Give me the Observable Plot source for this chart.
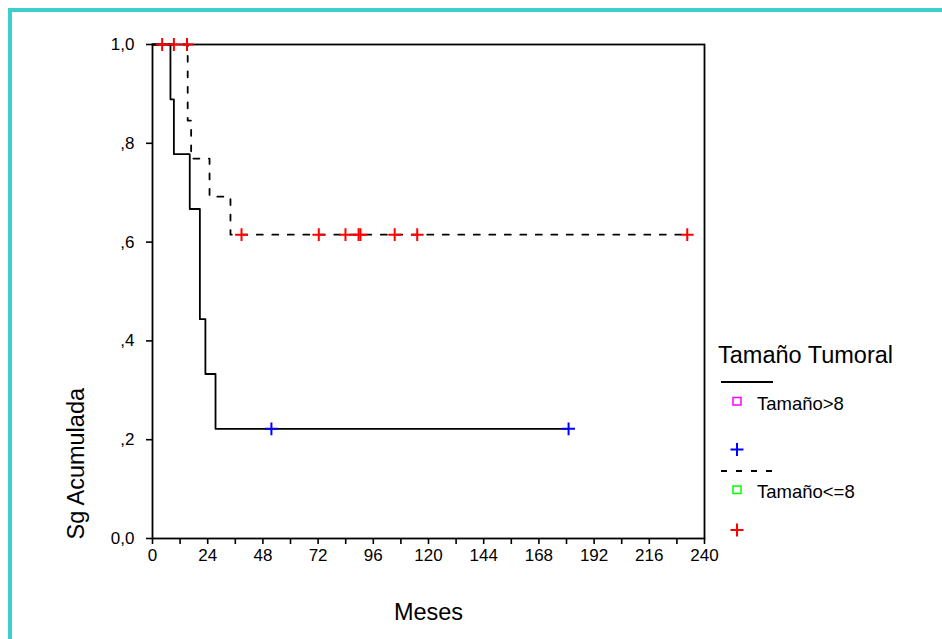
<!DOCTYPE html>
<html><head><meta charset="utf-8">
<script src="https://cdn.jsdelivr.net/npm/d3@7"></script>
<script src="https://cdn.jsdelivr.net/npm/@observablehq/plot@0.6"></script>
<style>
html,body{margin:0;padding:0;background:#fff;}
#chart{width:942px;height:639px;overflow:hidden;position:relative;}
</style></head><body><div id="chart"></div>
<script>
// ---- data ----
const xTicks = [0, 24, 48, 72, 96, 120, 144, 168, 192, 216, 240];
const xMinorTicks = [12, 36, 60, 84, 108, 132, 156, 180, 204, 228];
const yTicks = [0, 0.2, 0.4, 0.6, 0.8, 1.0];
const yTickLabels = ["0,0", ",2", ",4", ",6", ",8", "1,0"];
const legendTitle = "Tamaño Tumoral";
const seriesNames = ["Tamaño>8", "Tamaño<=8"];

// Tamaño>8 (solid)
const mayor8Time = [0, 7.8, 9.3, 16.2, 20.6, 23.0, 27.4, 180.9];
const mayor8Surv = [1.0, 0.889, 0.778, 0.667, 0.444, 0.333, 0.222, 0.222];
const mayor8CensorTime = [51.7, 180.9];
const mayor8CensorSurv = [0.222, 0.222];

// Tamaño<=8 (dashed)
const menor8Time = [0, 15.3, 16.8, 24.8, 33.9, 232.5];
const menor8Surv = [1.0, 0.846, 0.769, 0.692, 0.615, 0.615];
const menor8CensorTime = [4.2, 9.3, 15.0, 38.7, 72.3, 83.9, 89.6, 90.4, 105.3, 115.1, 232.5];
const menor8CensorSurv = [1.0, 1.0, 1.0, 0.615, 0.615, 0.615, 0.615, 0.615, 0.615, 0.615, 0.615];

// ---- build tables ----
const zip = (ts, ss) => ts.map((t, i) => ({t, s: ss[i]}));
const mayor8 = zip(mayor8Time, mayor8Surv);
const menor8 = zip(menor8Time, menor8Surv);
const mayor8C = zip(mayor8CensorTime, mayor8CensorSurv);
const menor8C = zip(menor8CensorTime, menor8CensorSurv);

const font = "'Liberation Sans', Arial, Helvetica, sans-serif";
const dash = "6,9.5";

const svg = Plot.plot({
  width: 942, height: 639,
  marginLeft: 152, marginRight: 238, marginTop: 44, marginBottom: 101,
  style: {fontFamily: font, fontSize: "17px", color: "#000", background: "transparent", overflow: "visible"},
  x: {domain: [0, 240]},
  y: {domain: [0, 1]},
  marks: [
    Plot.axisX({ticks: xMinorTicks, tickSize: 6, text: null, label: null, strokeWidth: 1.6}),
    Plot.axisX({ticks: xTicks, tickSize: 6, tickPadding: 4, tickFormat: d => String(d), label: null, strokeWidth: 1.6, fontSize: 17}),
    Plot.axisY({ticks: yTicks, tickSize: 6, tickPadding: 12, tickFormat: d => yTickLabels[yTicks.indexOf(d)], label: null, strokeWidth: 1.6, fontSize: 17}),
    Plot.line(mayor8, {x: "t", y: "s", curve: "step-after", stroke: "#000", strokeWidth: 1.8}),
    Plot.line(menor8, {x: "t", y: "s", curve: "step-after", stroke: "#000", strokeWidth: 1.8, strokeDasharray: dash}),
    Plot.frame({stroke: "#000", strokeWidth: 1.8}),
    Plot.dot(mayor8C, {x: "t", y: "s", symbol: "plus", r: 4.2, stroke: "#0000ff", strokeWidth: 2}),
    Plot.dot(menor8C, {x: "t", y: "s", symbol: "plus", r: 4.2, stroke: "#ff0000", strokeWidth: 2}),
    Plot.text(["Sg Acumulada"], {text: d => d, frameAnchor: "left", textAnchor: "start", lineAnchor: "middle", rotate: -90, dx: -76, dy: 248, fontSize: 23.5}),
    Plot.text(["Meses"], {text: d => d, frameAnchor: "bottom", lineAnchor: "middle", dy: 74, fontSize: 23.5})
  ]
});

const s = d3.select(svg);
// cyan page border
s.append("rect").attr("x", 10).attr("y", 10).attr("width", 1000).attr("height", 1000)
  .attr("fill", "none").attr("stroke", "#3DCFCF").attr("stroke-width", 4);

// legend
const g = s.append("g").attr("font-family", font).attr("fill", "#000").attr("text-anchor", "start");
g.append("text").attr("x", 718).attr("y", 363).attr("font-size", 23.5).text(legendTitle);
g.append("line").attr("x1", 721).attr("x2", 773).attr("y1", 382).attr("y2", 382).attr("stroke", "#000").attr("stroke-width", 1.8);
g.append("rect").attr("x", 733).attr("y", 397.5).attr("width", 8).attr("height", 7.5).attr("fill", "none").attr("stroke", "#ff00ff").attr("stroke-width", 1.5);
g.append("text").attr("x", 757).attr("y", 410).attr("font-size", 18.5).text(seriesNames[0]);
const plus = (cx, cy, col) => {
  g.append("path").attr("d", `M${cx-6.5},${cy}H${cx+6.5}M${cx},${cy-6.5}V${cy+6.5}`).attr("stroke", col).attr("stroke-width", 2).attr("fill", "none");
};
plus(737, 449.5, "#0000ff");
g.append("line").attr("x1", 721).attr("x2", 773).attr("y1", 471).attr("y2", 471).attr("stroke", "#000").attr("stroke-width", 1.8).attr("stroke-dasharray", "6,9");
g.append("rect").attr("x", 733).attr("y", 486).attr("width", 8).attr("height", 7.5).attr("fill", "none").attr("stroke", "#00ff00").attr("stroke-width", 1.5);
g.append("text").attr("x", 757).attr("y", 498).attr("font-size", 18.5).text(seriesNames[1]);
plus(737, 530, "#ff0000");

document.getElementById("chart").appendChild(svg);
</script>
</body></html>
